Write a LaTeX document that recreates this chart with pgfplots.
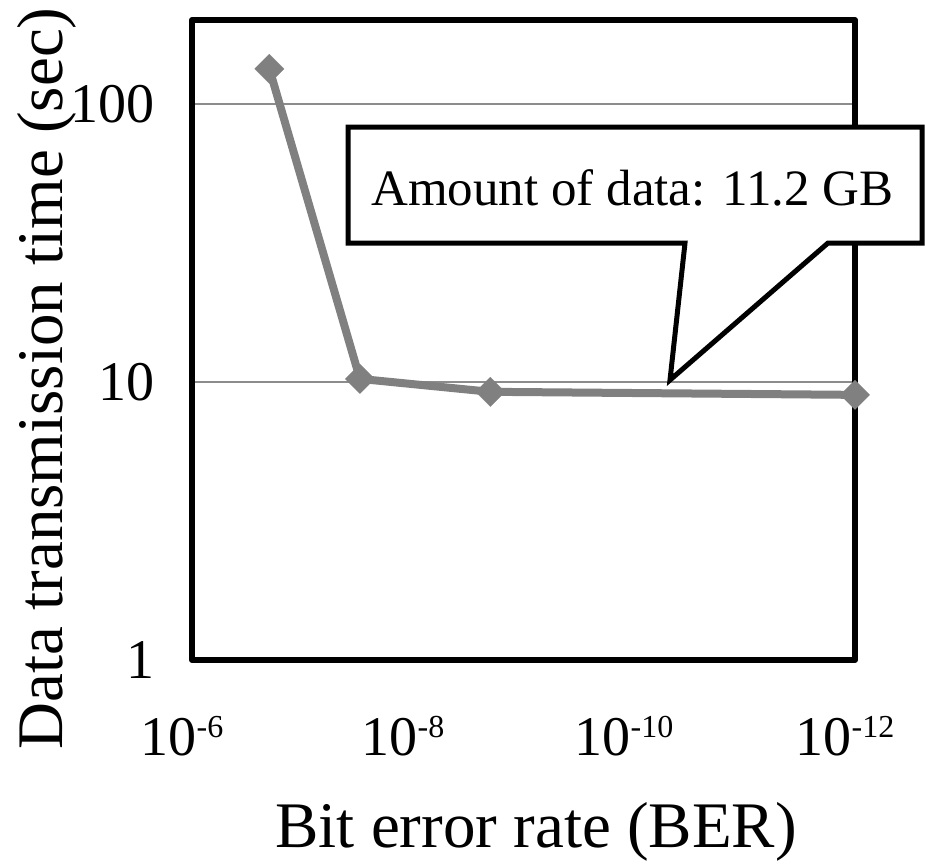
\documentclass[border=0pt]{standalone}
\usepackage{fontspec}
\setmainfont{Liberation Serif}
\usepackage{pgfplots}
\pgfplotsset{compat=1.18}
\definecolor{ser}{RGB}{128,128,128}
\definecolor{gridc}{RGB}{140,140,140}
\newcommand\sps[1]{\raisebox{9pt}{\fontsize{16}{16}\selectfont #1}}
\begin{document}
\begin{tikzpicture}
\useasboundingbox (-96pt,-102pt) rectangle (366.5pt,330pt);
\begin{axis}[
 scale only axis, width=331.5pt, height=320pt,
 xmin=6, xmax=12, ymode=log, ymin=1, ymax=200,
 xtick={6,8,10,12}, xticklabels={10\sps{-6},10\sps{-8},10\sps{-10},10\sps{-12}},
 ytick={1,10,100}, yticklabels={1,10,100},
 minor ytick={},
 tick style={draw=none},
 ymajorgrids, grid style={gridc, line width=1pt},
 axis line style={draw=none},
 clip=false,
 ticklabel style={font=\fontsize{28}{30}\selectfont, inner sep=0pt},
 xticklabel style={anchor=base, yshift=-47.5pt, xshift=-5pt},
 yticklabel style={anchor=east, xshift=-18.5pt},
 xlabel={Bit error rate (BER)}, ylabel={Data transmission time (sec)},
 label style={font=\fontsize{32.5}{35}\selectfont},
 xlabel style={at={(axis description cs:0.519,0)}, anchor=base, yshift=-93.5pt},
 ylabel style={at={(axis description cs:-0.196,0.44)}, anchor=base},
 /pgf/number format/assume math mode=true,
]
\addplot[ser, line width=4pt, line join=round, mark=square*, mark size=5.2pt,
  mark options={rotate=45, solid, fill=ser, draw=ser, line width=0.1pt}]
  coordinates {(6.70,133.5) (7.52,10.25) (8.70,9.21) (12,8.98)};
\draw[line width=3pt, line join=round] (rel axis cs:0,0) rectangle (rel axis cs:1,1);
\end{axis}
\draw[line width=2.5pt, fill=white] (78pt,266.5pt) -- (365pt,266.5pt) -- (365pt,208.5pt) -- (318pt,208.5pt) -- (239pt,140pt) -- (246.5pt,208.5pt) -- (78pt,208.5pt) -- cycle;
\node[font=\fontsize{25.5}{28}\selectfont, anchor=base, inner sep=0pt] at (220.25pt,227.5pt) {Amount of data: 11.2 GB};
\end{tikzpicture}
\end{document}
